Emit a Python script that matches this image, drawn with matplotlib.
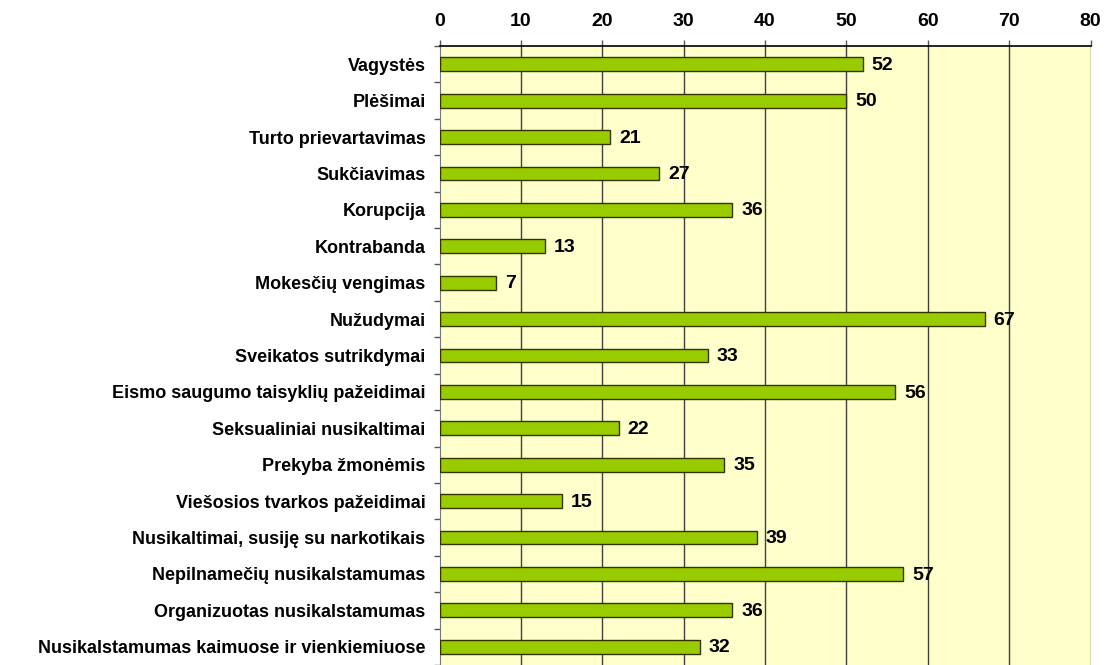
import matplotlib
matplotlib.use("Agg")
import matplotlib.pyplot as plt

categories = [
    "Vagystės", "Plėšimai", "Turto prievartavimas", "Sukčiavimas", "Korupcija",
    "Kontrabanda", "Mokesčių vengimas", "Nužudymai", "Sveikatos sutrikdymai",
    "Eismo saugumo taisyklių pažeidimai", "Seksualiniai nusikaltimai",
    "Prekyba žmonėmis", "Viešosios tvarkos pažeidimai",
    "Nusikaltimai, susiję su narkotikais", "Nepilnamečių nusikalstamumas",
    "Organizuotas nusikalstamumas", "Nusikalstamumas kaimuose ir vienkiemiuose",
]
values = [52, 50, 21, 27, 36, 13, 7, 67, 33, 56, 22, 35, 15, 39, 57, 36, 32]
xticks = [0, 10, 20, 30, 40, 50, 60, 70, 80]

plt.rcParams['font.family'] = ['Liberation Sans', 'DejaVu Sans']

fig = plt.figure(figsize=(11.1, 6.65), dpi=100)
ax = fig.add_axes([439.5/1110, 0.0, (1090.5-439.5)/1110, 1 - 47/665 + 0.0015])
ax.set_facecolor('#FFFFCC')

n = len(categories)
ypos = list(range(n))
ax.barh(ypos, values, height=0.38, color='#99CC00', edgecolor='#333300', linewidth=1, zorder=3)
for y, v in zip(ypos, values):
    ax.text(v + 1.1, y + 0.03, str(v), va='center', ha='left', fontsize=14, fontweight='bold', zorder=4)

ax.set_xlim(0, 80)
ax.set_ylim(n - 0.5, -0.5)
ax.xaxis.tick_top()
ax.set_xticks(xticks)
ax.set_xticklabels([str(t) for t in xticks], fontsize=14, fontweight='bold')
ax.tick_params(axis='x', length=4.5, width=1, color='#555555', pad=7)
ax.set_yticks(ypos)
ax.set_yticklabels(categories, fontsize=13, fontweight='bold')
ax.tick_params(axis='y', length=0, pad=10)
ax.set_yticks([k - 0.5 for k in range(n + 1)], minor=True)
ax.tick_params(axis='y', which='minor', length=4, width=1, color='#555555')

for t in xticks[1:]:
    ax.axvline(t, color='#404040', linewidth=1, zorder=1)

ax.spines['top'].set_color('black')
ax.spines['top'].set_linewidth(1.2)
ax.spines['left'].set_color('#777777')
ax.spines['right'].set_visible(False)
ax.spines['bottom'].set_visible(False)

fig.savefig('out.png', dpi=100)
